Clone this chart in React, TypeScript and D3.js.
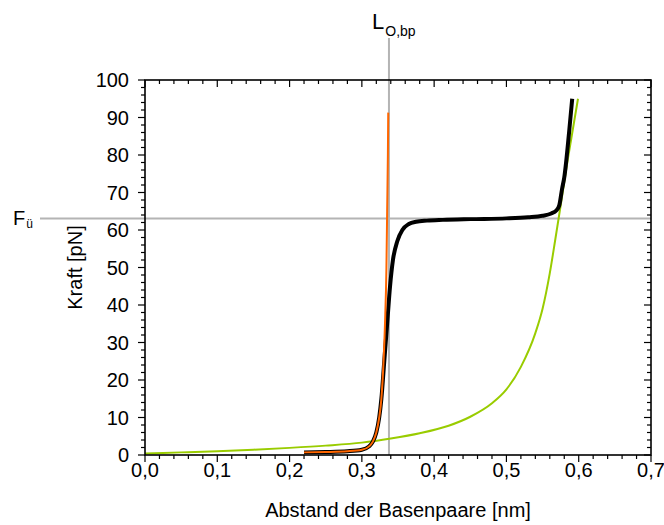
import React from "react";
import * as d3 from "d3";

const greenX = [0.0, 0.05, 0.1, 0.15, 0.2, 0.25, 0.3, 0.34, 0.38, 0.42, 0.45, 0.48, 0.5, 0.52, 0.54, 0.55, 0.56, 0.5677, 0.575, 0.585, 0.599];
const greenF = [0.4, 0.7, 1.0, 1.4, 1.9, 2.5, 3.3, 4.4, 5.8, 7.8, 10.2, 13.8, 17.5, 23.5, 32.5, 39, 48.5, 57.6, 66.5, 79, 95];

const blackX = [0.22, 0.25, 0.28, 0.3, 0.31, 0.315, 0.32, 0.324, 0.327, 0.331, 0.335, 0.339, 0.343, 0.349, 0.356, 0.365, 0.375, 0.39, 0.412, 0.45, 0.5, 0.53, 0.55, 0.562, 0.569, 0.573, 0.577, 0.58, 0.587, 0.591];
const blackF = [0.7, 0.8, 1.0, 1.4, 2.3, 3.5, 6, 10, 15, 25, 35, 45, 52, 57, 60, 61.6, 62.2, 62.5, 62.7, 62.9, 63.1, 63.4, 63.8, 64.4, 65.2, 66.5, 71, 74, 86.7, 95];

const orangeX = [0.22, 0.25, 0.28, 0.3, 0.31, 0.315, 0.32, 0.324, 0.327, 0.33, 0.332, 0.334, 0.335, 0.336, 0.3365];
const orangeF = [0.7, 0.8, 1.0, 1.4, 2.3, 3.5, 6, 10, 15, 25, 35, 50, 65, 80, 91.3];

const xTicks = [0, 0.1, 0.2, 0.3, 0.4, 0.5, 0.6, 0.7];
const xTickLabels = ["0,0", "0,1", "0,2", "0,3", "0,4", "0,5", "0,6", "0,7"];
const yTicks = [0, 10, 20, 30, 40, 50, 60, 70, 80, 90, 100];

const forceLevel = 63.1;
const lengthLevel = 0.3375;

const W = 664;
const H = 525;
const left = 145, right = 651, top = 80, bottom = 455;

export default function App() {
  const x = d3.scaleLinear().domain([0, 0.7]).range([left, right]);
  const y = d3.scaleLinear().domain([0, 100]).range([bottom, top]);
  const line = d3
    .line<[number, number]>()
    .x((d) => x(d[0]))
    .y((d) => y(d[1]))
    .curve(d3.curveMonotoneX);

  const green = line(greenX.map((v, i) => [v, greenF[i]]));
  const black = line(blackX.map((v, i) => [v, blackF[i]]));
  const orange = line(orangeX.map((v, i) => [v, orangeF[i]]));

  const xMinor = d3.range(0, 0.7001, 0.02);
  const yMinor = d3.range(0, 100.001, 2);
  const font = "'Liberation Sans', Arial, sans-serif";

  return (
    <svg
      width={W}
      height={H}
      style={{ position: "absolute", left: 0, top: 0, background: "#fff" }}
      fontFamily={font}
    >
      {/* reference lines */}
      <line x1={40} x2={right} y1={y(forceLevel)} y2={y(forceLevel)} stroke="#b4b4b4" strokeWidth={2} />
      <line x1={x(lengthLevel)} x2={x(lengthLevel)} y1={38} y2={bottom} stroke="#b4b4b4" strokeWidth={2} />

      {/* curves */}
      <path d={green ?? ""} fill="none" stroke="#99cc00" strokeWidth={2} />
      <path d={black ?? ""} fill="none" stroke="#000" strokeWidth={4} />
      <path d={orange ?? ""} fill="none" stroke="#ff6600" strokeWidth={2} />

      {/* frame */}
      <rect x={left} y={top} width={right - left} height={bottom - top} fill="none" stroke="#000" strokeWidth={1.6} />

      {/* x ticks */}
      {xMinor.map((t, i) => {
        const major = i % 5 === 0;
        const len = major ? 7 : 4;
        return (
          <g key={"xm" + i}>
            <line x1={x(t)} x2={x(t)} y1={bottom} y2={bottom + len} stroke="#000" strokeWidth={1.2} />
            <line x1={x(t)} x2={x(t)} y1={top} y2={top + len} stroke="#000" strokeWidth={1.2} />
          </g>
        );
      })}
      {xTicks.map((t, i) => (
        <text key={"xl" + i} x={x(t)} y={477} fontSize={20} textAnchor="middle">
          {xTickLabels[i]}
        </text>
      ))}

      {/* y ticks */}
      {yMinor.map((t, i) => {
        const major = i % 5 === 0;
        const len = major ? 7 : 4;
        return (
          <g key={"ym" + i}>
            <line x1={left - len} x2={left} y1={y(t)} y2={y(t)} stroke="#000" strokeWidth={1.2} />
            <line x1={right - len} x2={right} y1={y(t)} y2={y(t)} stroke="#000" strokeWidth={1.2} />
          </g>
        );
      })}
      {yTicks.map((t) => (
        <text key={"yl" + t} x={129} y={y(t)} dy="0.36em" fontSize={20} textAnchor="end">
          {t}
        </text>
      ))}

      {/* axis titles */}
      <text x={(left + right) / 2} y={517} fontSize={20} textAnchor="middle">
        Abstand der Basenpaare [nm]
      </text>
      <text transform={`translate(82,${(top + bottom) / 2}) rotate(-90)`} fontSize={20} textAnchor="middle">
        Kraft [pN]
      </text>

      {/* annotations */}
      <text x={13} y={225} fontSize={20}>
        F<tspan fontSize={12} dx={1} dy={2.5}>ü</tspan>
      </text>
      <text x={372} y={28.5} fontSize={22}>
        L<tspan fontSize={14} dx={1} dy={7.5}>O,bp</tspan>
      </text>
    </svg>
  );
}
